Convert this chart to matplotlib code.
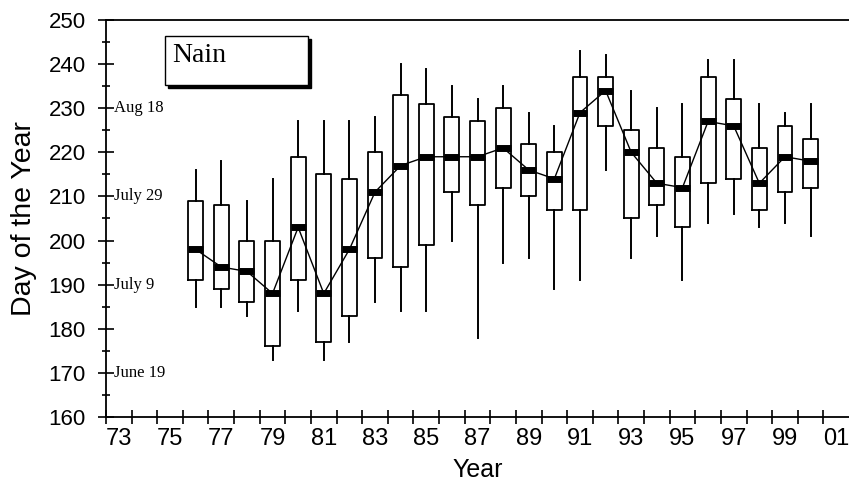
import matplotlib
matplotlib.use("Agg")
import matplotlib.pyplot as plt
import matplotlib.transforms as mtransforms
from matplotlib.patches import Rectangle

# ---- data ----
years = ["76", "77", "78", "79", "80", "81", "82", "83", "84", "85", "86", "87", "88",
         "89", "90", "91", "92", "93", "94", "95", "96", "97", "98", "99", "00"]
whisker_hi = [216, 218, 209, 214, 227, 227, 227, 228, 240, 239, 235, 232, 235,
              229, 226, 243, 242, 234, 230, 231, 241, 241, 231, 229, 231]
q3 = [209, 208, 200, 200, 219, 215, 214, 220, 233, 231, 228, 227, 230,
      222, 220, 237, 237, 225, 221, 219, 237, 232, 221, 226, 223]
median = [198, 194, 193, 188, 203, 188, 198, 211, 217, 219, 219, 219, 221,
          216, 214, 229, 234, 220, 213, 212, 227, 226, 213, 219, 218]
q1 = [191, 189, 186, 176, 191, 177, 183, 196, 194, 199, 211, 208, 212,
      210, 207, 207, 226, 205, 208, 203, 213, 214, 207, 211, 212]
whisker_lo = [185, 185, 183, 173, 184, 173, 177, 186, 184, 184, 200, 178, 195,
              196, 189, 191, 216, 196, 201, 191, 204, 206, 203, 204, 201]

axis_years = ["73", "74", "75", "76", "77", "78", "79", "80", "81", "82", "83", "84", "85",
              "86", "87", "88", "89", "90", "91", "92", "93", "94", "95", "96", "97",
              "98", "99", "00", "01"]
label_years = ["73", "75", "77", "79", "81", "83", "85", "87", "89", "91", "93", "95", "97", "99", "01"]

date_values = [230, 210, 190, 170]
date_labels = ["Aug 18", "July 29", "July 9", "June 19"]

station = "Nain"

# ---- figure ----
fig = plt.figure(figsize=(8.49, 4.83), dpi=100)
ax = fig.add_axes([106 / 849, 1 - 417 / 483, 743 / 849, 397 / 483])

slot = {y: i for i, y in enumerate(axis_years)}
pos = [slot[y] + 0.5 for y in years]

stats = []
for i in range(len(years)):
    stats.append(dict(med=median[i], q1=q1[i], q3=q3[i],
                      whislo=whisker_lo[i], whishi=whisker_hi[i], fliers=[]))

ax.bxp(stats, positions=pos, widths=0.58, showcaps=False, showfliers=False,
       boxprops=dict(color="black", linewidth=1.3),
       whiskerprops=dict(color="black", linewidth=1.4),
       medianprops=dict(color="black", linewidth=5, solid_capstyle="butt"),
       manage_ticks=False)

ax.plot(pos, median, color="black", linewidth=1.0, zorder=1)

ax.set_xlim(0, 29)
ax.set_ylim(160, 250)

# spines
ax.spines["right"].set_visible(False)
for s in ["left", "bottom", "top"]:
    ax.spines[s].set_linewidth(1.3)

# y ticks
ax.set_yticks(range(160, 251, 10))
ax.set_yticks(range(165, 250, 10), minor=True)
ax.tick_params(axis="y", which="major", direction="inout", length=11, width=1.2,
               labelsize=16, pad=9)
ax.tick_params(axis="y", which="minor", direction="inout", length=6, width=1.2)

# x ticks: marks at slot boundaries, labels at slot centres
ax.set_xticks(range(0, 29))
ax.set_xticklabels([""] * 29)
ax.set_xticks([slot[y] + 0.5 for y in label_years], minor=True)
ax.set_xticklabels(label_years, minor=True)
ax.tick_params(axis="x", which="major", direction="inout", length=10, width=1.2)
ax.tick_params(axis="x", which="minor", length=0, labelsize=17, pad=8)

for lab in ax.get_yticklabels() + ax.get_xticklabels(minor=True):
    lab.set_fontfamily("Liberation Sans")

ax.set_ylabel("Day of the Year", fontsize=20.5, family="Liberation Sans", labelpad=8)
ax.set_xlabel("Year", fontsize=18, family="Liberation Sans", labelpad=6)

# date annotations
trans = mtransforms.blended_transform_factory(ax.transAxes, ax.transData)
for v, t in zip(date_values, date_labels):
    ax.text(0.011, v, t, transform=trans, va="center", ha="left",
            fontsize=12, family="Liberation Serif")

# station box with shadow
bx0, by0, bw, bh = 0.0794, 0.8363, 0.1925, 0.1234
ax.add_patch(Rectangle((bx0 + 0.0045, by0 - 0.008), bw, bh, transform=ax.transAxes,
                       facecolor="black", edgecolor="black", zorder=5, clip_on=False))
ax.add_patch(Rectangle((bx0, by0), bw, bh, transform=ax.transAxes,
                       facecolor="white", edgecolor="black", linewidth=1.0, zorder=6,
                       clip_on=False))
ax.text(0.0888, 0.894, station, transform=ax.transAxes, va="baseline", ha="left",
        fontsize=20, family="Liberation Serif", zorder=7)

fig.savefig("out.png", dpi=100)
